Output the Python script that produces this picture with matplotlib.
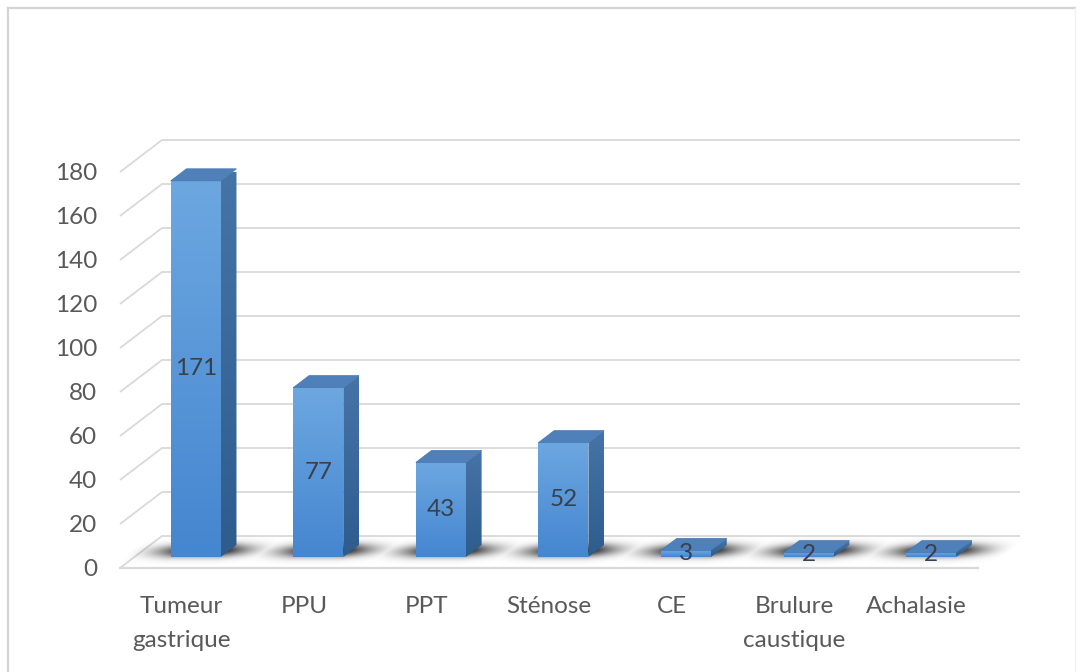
import numpy as np
import matplotlib
matplotlib.use("Agg")
import matplotlib.pyplot as plt
from matplotlib.patches import Polygon
from matplotlib.lines import Line2D
from matplotlib.colors import to_rgb

# ---- data ----
categories = ["Tumeur\ngastrique", "PPU", "PPT", "Sténose", "CE", "Brulure\ncaustique", "Achalasie"]
values = [171, 77, 43, 52, 3, 2, 2]
yticks = [0, 20, 40, 60, 80, 100, 120, 140, 160, 180]

# ---- style ----
W, H, DPI = 1080, 672, 100
FONT = ["Lato", "DejaVu Sans"]
TXT = "#595959"
GRID = "#D9D9D9"
FS = 17.5
plt.rcParams["font.family"] = FONT

fig = plt.figure(figsize=(W / DPI, H / DPI), dpi=DPI)
fig.patch.set_facecolor("white")
ax = fig.add_axes([120 / W, 104 / H, 858 / W, 396 / H])
XL, YL = (-0.5, 6.5), (0, 180)

# depth of the 3D box in data units
DX = 42 / (858 / 7)
DY = 32 / (396 / 180)
f0, f1 = 11 / 32, 23 / 32          # bar front / back depth fractions
hw = 25 / (858 / 7)                # half width of bar front face

# back wall gridlines with left slanted edges
for v in yticks:
    ax.plot([XL[0], XL[0] + DX, XL[1] + DX], [v, v + DY, v + DY],
            color=GRID, lw=1.3, clip_on=False, zorder=1, solid_capstyle="butt")
# floor front edge
ax.plot([XL[0], XL[1]], [0, 0], color=GRID, lw=1.6, clip_on=False, zorder=1)

# floor shadows
xs = np.linspace(XL[0], XL[1] + DX, 1600)
ys = np.linspace(-0.5, DY + 0.5, 140)
X, Y = np.meshgrid(xs, ys)
d = Y / DY
u = X - d * DX
alpha = np.zeros_like(X)
for i, v in enumerate(values):
    h = np.abs(u - i)
    axf = np.clip(1 - np.clip(h - hw, 0, None) / 0.40, 0, 1) ** 1.6
    adf = np.exp(-((d - 0.53) / 0.2) ** 2)
    alpha = np.maximum(alpha, axf * adf)
rgba = np.zeros(X.shape + (4,))
rgba[..., :3] = 0.18
rgba[..., 3] = alpha * 0.92
ax.imshow(rgba, extent=[xs[0], xs[-1], ys[0], ys[-1]], origin="lower",
          aspect="auto", interpolation="bilinear", zorder=2, clip_on=False)


def grad(c_top, c_bot, n=64):
    a = np.array(to_rgb(c_top))
    b = np.array(to_rgb(c_bot))
    t = np.linspace(0, 1, n)[:, None]
    col = a * (1 - t) + b * t
    return np.repeat(col[:, None, :], 8, axis=1)


front_img = grad("#6CA7E0", "#4586D0")
side_img = grad("#4774A8", "#2D5C8D")

for i, v in enumerate(values):
    x0 = i + f0 * DX - hw
    x1 = i + f0 * DX + hw
    y0 = f0 * DY
    y1 = v + f0 * DY
    sx = (f1 - f0) * DX
    sy = (f1 - f0) * DY
    # front face
    ax.imshow(front_img, extent=[x0, x1, y0, y1], origin="upper", aspect="auto",
              interpolation="bilinear", zorder=4, clip_on=False)
    # side face
    side = Polygon([(x1, y0), (x1 + sx, y0 + sy), (x1 + sx, y1 + sy), (x1, y1)],
                   closed=True, facecolor="none", edgecolor="none")
    ax.add_patch(side)
    im = ax.imshow(side_img, extent=[x1, x1 + sx, y0, y1 + sy], origin="upper",
                   aspect="auto", interpolation="bilinear", zorder=4, clip_on=True)
    im.set_clip_path(side)
    # top face
    ax.add_patch(Polygon([(x0, y1), (x1, y1), (x1 + sx, y1 + sy), (x0 + sx, y1 + sy)],
                         closed=True, facecolor="#4F80BA", edgecolor="#4677B0",
                         lw=0.5, zorder=5, clip_on=False))
    # value label
    ax.text(i + f0 * DX, v / 2 + f0 * DY, str(v), ha="center", va="center",
            fontsize=FS, color="#37404C", zorder=6, clip_on=False)

ax.set_xlim(*XL)
ax.set_ylim(*YL)
ax.set_yticks(yticks)
ax.set_yticklabels([str(t) for t in yticks])
ax.set_xticks(range(len(categories)))
ax.set_xticklabels(categories, linespacing=1.75)
ax.tick_params(axis="y", length=0, pad=16.5, labelsize=FS, labelcolor=TXT)
ax.tick_params(axis="x", length=0, pad=20.5, labelsize=FS, labelcolor=TXT)
for s in ax.spines.values():
    s.set_visible(False)
ax.set_facecolor("none")

# outer chart border
fig.add_artist(Line2D([8 / W, 8 / W], [0, 1 - 8 / H], transform=fig.transFigure,
                      color="#D4D4D4", lw=1.6))
fig.add_artist(Line2D([8 / W, 1075 / W], [1 - 8 / H, 1 - 8 / H], transform=fig.transFigure,
                      color="#D4D4D4", lw=1.6))
fig.add_artist(Line2D([1075 / W, 1075 / W], [0, 1 - 8 / H], transform=fig.transFigure,
                      color="#F0F0F0", lw=1.0))

fig.savefig("out.png", dpi=DPI, facecolor="white")
